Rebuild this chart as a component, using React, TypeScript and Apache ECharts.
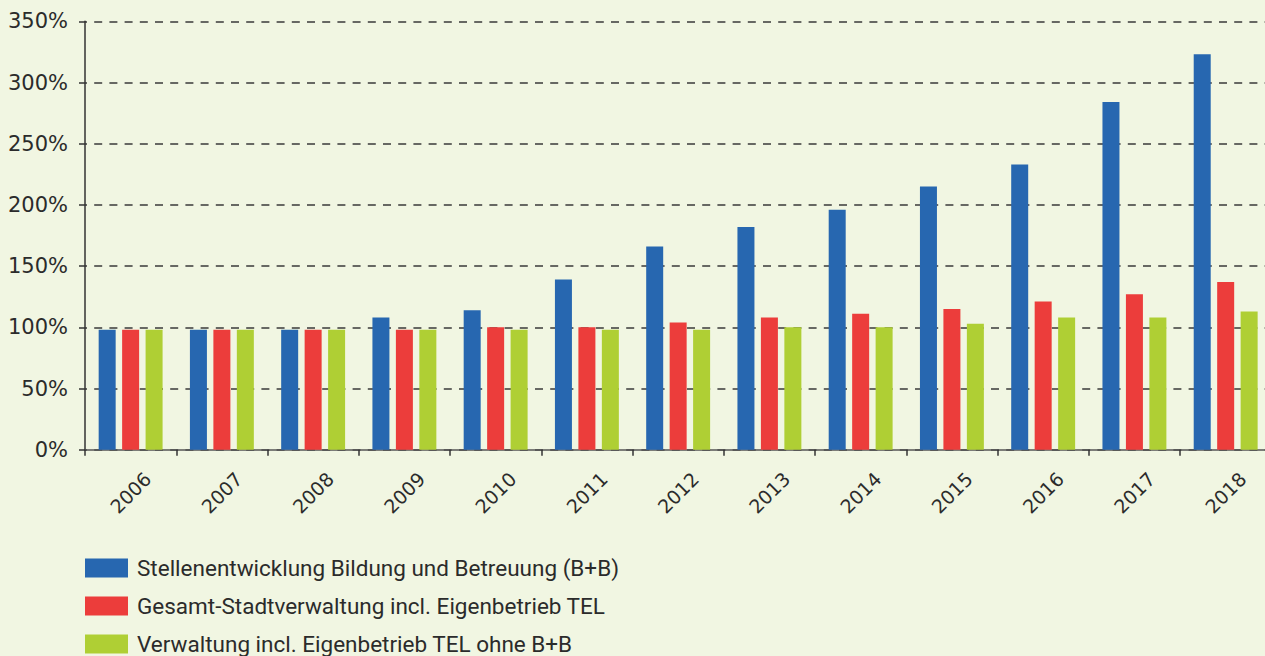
import React, { useEffect, useRef } from "react";
import * as echarts from "echarts";

const years = ["2006", "2007", "2008", "2009", "2010", "2011", "2012", "2013", "2014", "2015", "2016", "2017", "2018"];
const seriesNames = [
  "Stellenentwicklung Bildung und Betreuung (B+B)",
  "Gesamt-Stadtverwaltung incl. Eigenbetrieb TEL",
  "Verwaltung incl. Eigenbetrieb TEL ohne B+B",
];
const bildungBetreuung = [98, 98, 98, 108, 114, 139, 166, 182, 196, 215, 233, 284, 323];
const gesamtVerwaltung = [98, 98, 98, 98, 100, 100, 104, 108, 111, 115, 121, 127, 137];
const verwaltungOhneBB = [98, 98, 98, 98, 98, 98, 98, 100, 100, 103, 108, 108, 113];
const colors = ["#2767B0", "#EC3D3B", "#AFCF34"];

export default function App() {
  const ref = useRef<HTMLDivElement>(null);
  useEffect(() => {
    if (!ref.current) return;
    const chart = echarts.init(ref.current, undefined, { renderer: "svg" });
    const dataSets = [bildungBetreuung, gesamtVerwaltung, verwaltungOhneBB];
    const legendTops = [556.5, 594.5, 632.5];
    chart.setOption({
      animation: false,
      backgroundColor: "#F1F6E2",
      grid: { left: 85, top: 21.3, right: 8.7, bottom: 206.3, containLabel: false },
      legend: seriesNames.map((name, i) => ({
        orient: "horizontal",
        left: 85,
        top: legendTops[i],
        padding: 0,
        itemWidth: 43,
        itemHeight: 19,
        icon: "rect",
        data: [name],
        textStyle: {
          fontFamily: "Roboto, 'Noto Sans', sans-serif",
          fontSize: 22.5,
          lineHeight: 19,
          color: "#2b2b2b",
          padding: [0, 0, 0, 4],
        },
      })),
      xAxis: {
        type: "category",
        data: years,
        axisLine: { lineStyle: { color: "#555", width: 1.5 } },
        axisTick: { show: true, length: 6, lineStyle: { color: "#333", width: 1.5 } },
        axisLabel: {
          rotate: 45,
          align: "center",
          verticalAlign: "middle",
          margin: 43,
          fontFamily: "'DejaVu Sans', sans-serif",
          fontSize: 19,
          color: "#2b2b2b",
        },
      },
      yAxis: {
        type: "value",
        min: 0,
        max: 350,
        interval: 50,
        axisLine: { show: true, lineStyle: { color: "#333", width: 1.5 } },
        axisTick: { show: true, length: 6, lineStyle: { color: "#333", width: 1.5 } },
        axisLabel: {
          formatter: "{value}%",
          margin: 17,
          fontFamily: "'DejaVu Sans', sans-serif",
          fontSize: 21,
          color: "#2b2b2b",
        },
        splitLine: {
          show: true,
          lineStyle: { color: "#3a3a3a", width: 1.5, type: [8, 7.2], dashOffset: 6 },
        },
      },
      series: dataSets.map((d, i) => ({
        name: seriesNames[i],
        type: "bar",
        data: d,
        barWidth: 17,
        barGap: "38%",
        itemStyle: { color: colors[i] },
      })),
    });
    return () => chart.dispose();
  }, []);
  return (
    <div
      ref={ref}
      style={{ position: "fixed", left: 0, top: 0, width: 1280, height: 656, background: "#F1F6E2" }}
    />
  );
}
